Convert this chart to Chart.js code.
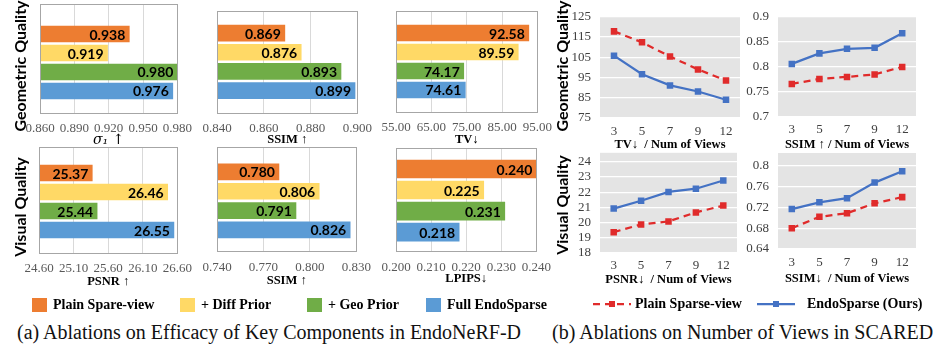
<!DOCTYPE html>
<html>
<head>
<meta charset="utf-8">
<script src="https://cdn.jsdelivr.net/npm/chart.js@4.4.0/dist/chart.umd.min.js"></script>
<style>
body { margin: 0; background: #fff; width: 933px; height: 348px; overflow: hidden; position: relative; font-family: "Liberation Serif", serif; }
.rowlab { position: absolute; font: bold 16px Lato, sans-serif; color: #000; white-space: nowrap; transform: translate(-50%, -50%) rotate(-90deg); }
.leg { position: absolute; font: bold 14px "Liberation Serif", serif; color: #000; white-space: nowrap; transform: translateY(-50%); }
.sw { position: absolute; width: 15px; height: 14px; }
.cap { position: absolute; font: 20px "Liberation Serif", serif; color: #111; white-space: nowrap; transform: translateY(-50%); }
</style>
</head>
<body>
<script>
// (a) component ablation, EndoNeRF-D
const variants = ["Plain Spare-view", "+ Diff Prior", "+ Geo Prior", "Full EndoSparse"];
const variantColors = ["#ED7D31", "#FFD966", "#70AD47", "#5B9BD5"];
const sigmaVals = [0.938, 0.919, 0.980, 0.976];
const geoSsimVals = [0.869, 0.876, 0.893, 0.899];
const tvVals = [92.58, 89.59, 74.17, 74.61];
const psnrVals = [25.37, 26.46, 25.44, 26.55];
const visSsimVals = [0.780, 0.806, 0.791, 0.826];
const lpipsVals = [0.240, 0.225, 0.231, 0.218];
const sigmaTicks = ["0.860", "0.890", "0.920", "0.950", "0.980"];
const geoSsimTicks = ["0.840", "0.860", "0.880", "0.900"];
const tvTicks = ["55.00", "65.00", "75.00", "85.00", "95.00"];
const psnrTicks = ["24.60", "25.10", "25.60", "26.10", "26.60"];
const visSsimTicks = ["0.740", "0.770", "0.800", "0.830"];
const lpipsTicks = ["0.200", "0.210", "0.220", "0.230", "0.240"];

// (b) number of views, SCARED
const seriesNames = ["Plain Sparse-view", "EndoSparse (Ours)"];
const views = ["3", "5", "7", "9", "12"];
const tvPlain = [117.8, 112.4, 105.4, 99.0, 93.5];
const tvOurs = [105.8, 96.6, 91.1, 88.1, 84.0];
const ssimGeoPlain = [0.766, 0.776, 0.780, 0.785, 0.800];
const ssimGeoOurs = [0.806, 0.827, 0.836, 0.838, 0.867];
const psnrPlain = [19.37, 19.88, 20.08, 20.67, 21.12];
const psnrOurs = [20.92, 21.44, 22.02, 22.23, 22.77];
const ssimVisPlain = [0.680, 0.702, 0.709, 0.728, 0.740];
const ssimVisOurs = [0.717, 0.730, 0.738, 0.768, 0.790];
const tvTicksB = ["75", "85", "95", "105", "115", "125"];
const ssimGeoTicksB = ["0.7", "0.75", "0.8", "0.85", "0.9"];
const psnrTicksB = ["18", "19", "20", "21", "22", "23", "24"];
const ssimVisTicksB = ["0.64", "0.68", "0.72", "0.76", "0.8"];

const RED = "#E02B2B", BLUE = "#4472C4";
const tickFont = { family: "Liberation Serif", size: 13 };
const titleFont = { family: "Liberation Serif", size: 12.5, weight: "bold" };

function makeCanvas(x, y, w, h) {
    const cv = document.createElement("canvas");
    cv.width = w; cv.height = h;
    cv.style.cssText = `position:absolute;left:${x}px;top:${y}px;width:${w}px;height:${h}px`;
    document.body.appendChild(cv);
    return cv;
}

const frame = {
    id: "frame",
    afterDraw(chart) {
        const a = chart.chartArea, c = chart.ctx;
        c.save();
        c.strokeStyle = "#a6a6a6";
        c.lineWidth = 1;
        c.strokeRect(Math.round(a.left) + 0.5, Math.round(a.top) + 0.5, Math.round(a.right - a.left), Math.round(a.bottom - a.top));
        c.restore();
    }
};

const barValues = {
    id: "barValues",
    afterDatasetsDraw(chart) {
        const c = chart.ctx, meta = chart.getDatasetMeta(0);
        const dec = chart.options.decimals;
        c.save();
        c.font = "bold 14px Lato";
        c.fillStyle = "#000";
        c.textAlign = "right";
        c.textBaseline = "middle";
        meta.data.forEach((bar, i) => {
            c.fillText(chart.data.datasets[0].data[i].x.toFixed(dec), bar.x - 4, bar.y + 1);
        });
        c.restore();
    }
};

const plotBg = {
    id: "plotBg",
    beforeDraw(chart) {
        const a = chart.chartArea, c = chart.ctx, ex = chart.options.bgExtra || 0;
        c.save();
        c.fillStyle = "#e4e4e4";
        c.fillRect(a.left, a.top - ex, a.right - a.left, a.bottom - a.top + ex);
        c.restore();
    }
};

function barChart(p, values, ticks, dec, title, tFont) {
    const cv = makeCanvas(p.x, p.y, p.w, p.h);
    new Chart(cv, {
        type: "bar",
        data: {
            datasets: [{
                data: values.map((v, i) => ({ x: v, y: i })),
                backgroundColor: variantColors,
                barThickness: p.bar
            }]
        },
        options: {
            indexAxis: "y", responsive: false, animation: false, decimals: dec,
            layout: { padding: { left: p.pl, right: p.pr, top: p.pt, bottom: 0 } },
            plugins: { legend: { display: false }, tooltip: { enabled: false } },
            scales: {
                y: { type: "linear", display: false, reverse: true, offset: false, grid: { offset: false }, min: p.ymin, max: p.ymax },
                x: {
                    min: +ticks[0], max: +ticks[ticks.length - 1],
                    afterBuildTicks: s => { s.ticks = ticks.map(t => ({ value: +t })); },
                    afterFit: s => { s.height = p.xh; },
                    grid: { color: "#d9d9d9", drawTicks: false },
                    border: { display: false },
                    ticks: { padding: p.tp, color: "#595959", font: tickFont, autoSkip: false, maxRotation: 0, callback: (v, i) => ticks[i] },
                    title: { display: true, text: title, color: "#000", font: tFont || titleFont, padding: { top: 0, bottom: p.tb } }
                }
            }
        },
        plugins: [frame, barValues]
    });
}

function lineChart(p, plain, ours, ticks, title) {
    const cv = makeCanvas(p.x, p.y, p.w, p.h);
    const ds = (label, data, color, dash) => ({
        label, data, borderColor: color, backgroundColor: color, borderWidth: 2.25,
        borderDash: dash, pointStyle: "rect", pointRadius: 4.6, pointBorderWidth: 0, tension: 0
    });
    new Chart(cv, {
        type: "line",
        data: { labels: views, datasets: [ds(seriesNames[0], plain, RED, [7, 5]), ds(seriesNames[1], ours, BLUE, [])] },
        options: {
            responsive: false, animation: false, bgExtra: p.ex,
            layout: { padding: { left: 0, right: p.pr, top: p.pt, bottom: 0 } },
            plugins: { legend: { display: false }, tooltip: { enabled: false } },
            scales: {
                x: {
                    offset: true,
                    afterFit: s => { s.height = p.xh; },
                    grid: { display: false, drawTicks: false },
                    border: { display: false },
                    ticks: { padding: p.tp, color: "#404040", font: tickFont, maxRotation: 0, autoSkip: false },
                    title: { display: true, text: title, color: "#000", font: titleFont, padding: { top: 0, bottom: p.tb } }
                },
                y: {
                    min: +ticks[0], max: +ticks[ticks.length - 1],
                    afterBuildTicks: s => { s.ticks = ticks.map(t => ({ value: +t })); },
                    afterFit: s => { s.width = p.yw; },
                    grid: { color: "#ffffff", lineWidth: 1.3, drawTicks: false },
                    border: { display: false },
                    ticks: { padding: 9, color: "#404040", font: tickFont, autoSkip: false, callback: (v, i) => ticks[i] }
                }
            }
        },
        plugins: [plotBg]
    });
}

// (a) bar panels
barChart({ x: 0, y: 0, w: 200, h: 150, pl: 40, pr: 17, pt: 4, xh: 37, tp: 8, tb: 1, bar: 16, ymin: -1.58, ymax: 4.16 },
    sigmaVals, sigmaTicks, 3, "\u03c3\u2081 \u2191", { family: "DejaVu Serif", size: 14, style: "italic" });
barChart({ x: 190, y: 0, w: 190, h: 150, pl: 27, pr: 19, pt: 11, xh: 37, tp: 8, tb: 3, bar: 16, ymin: -1.15, ymax: 4.17 },
    geoSsimVals, geoSsimTicks, 3, "SSIM \u2191");
barChart({ x: 370, y: 0, w: 190, h: 150, pl: 26, pr: 19, pt: 11, xh: 38, tp: 8, tb: 3, bar: 16, ymin: -1.16, ymax: 4.16 },
    tvVals, tvTicks, 2, "TV\u2193");
barChart({ x: 0, y: 145, w: 200, h: 150, pl: 39, pr: 17, pt: 2, xh: 42, tp: 8, tb: 6, bar: 16, ymin: -1.37, ymax: 4.21 },
    psnrVals, psnrTicks, 2, "PSNR \u2191");
barChart({ x: 190, y: 145, w: 190, h: 150, pl: 27, pr: 18, pt: 2, xh: 44, tp: 9, tb: 7, bar: 16, ymin: -1.29, ymax: 4.09 },
    visSsimVals, visSsimTicks, 3, "SSIM \u2191");
barChart({ x: 370, y: 145, w: 190, h: 150, pl: 26, pr: 19, pt: 3, xh: 44, tp: 9, tb: 9, bar: 18, ymin: -1.0, ymax: 3.9 },
    lpipsVals, lpipsTicks, 3, "LPIPS\u2193");

// (b) line panels
lineChart({ x: 560, y: 0, w: 190, h: 160, pr: 10, pt: 13, yw: 40, xh: 42, tp: 6, tb: 8, ex: 0 },
    tvPlain, tvOurs, tvTicksB, "TV\u2193  / Num of Views");
lineChart({ x: 740, y: 0, w: 193, h: 160, pr: 17, pt: 13, yw: 38, xh: 43, tp: 5, tb: 8, ex: 0 },
    ssimGeoPlain, ssimGeoOurs, ssimGeoTicksB, "SSIM \u2191 / Num of Views");
lineChart({ x: 560, y: 145, w: 190, h: 150, pr: 13, pt: 12, yw: 40, xh: 42, tp: 5, tb: 8, ex: 9 },
    psnrPlain, psnrOurs, psnrTicksB, "PSNR\u2193  / Num of Views");
lineChart({ x: 740, y: 145, w: 193, h: 150, pr: 17, pt: 21, yw: 38, xh: 46, tp: 6, tb: 9, ex: 13 },
    ssimVisPlain, ssimVisOurs, ssimVisTicksB, "SSIM\u2193  / Num of Views");

// row labels, legends, captions
function addDiv(cls, text, x, y) {
    const d = document.createElement("div");
    d.className = cls;
    d.textContent = text;
    d.style.left = x + "px";
    d.style.top = y + "px";
    document.body.appendChild(d);
    return d;
}
addDiv("rowlab", "Geometric Quality", 19, 66);
addDiv("rowlab", "Visual Quality", 19, 207);
addDiv("rowlab", "Geometric Quality", 561, 66);
addDiv("rowlab", "Visual Quality", 561, 205);

const legX = [32, 180, 307, 426];
variants.forEach((name, i) => {
    const s = document.createElement("div");
    s.className = "sw";
    s.style.left = legX[i] + "px";
    s.style.top = "298px";
    s.style.background = variantColors[i];
    document.body.appendChild(s);
    addDiv("leg", name, legX[i] + 21, 305);
});

const lineLegX = [593, 757];
const svgNS = "http://www.w3.org/2000/svg";
seriesNames.forEach((name, i) => {
    const svg = document.createElementNS(svgNS, "svg");
    svg.setAttribute("width", "40");
    svg.setAttribute("height", "10");
    svg.style.cssText = `position:absolute;left:${lineLegX[i]}px;top:299px`;
    const col = i === 0 ? RED : BLUE;
    const ln = document.createElementNS(svgNS, "line");
    ln.setAttribute("x1", "0"); ln.setAttribute("x2", "38");
    ln.setAttribute("y1", "5"); ln.setAttribute("y2", "5");
    ln.setAttribute("stroke", col); ln.setAttribute("stroke-width", "2.25");
    if (i === 0) ln.setAttribute("stroke-dasharray", "7 5");
    const rc = document.createElementNS(svgNS, "rect");
    rc.setAttribute("x", "16"); rc.setAttribute("y", "2");
    rc.setAttribute("width", "6"); rc.setAttribute("height", "6");
    rc.setAttribute("fill", col);
    svg.appendChild(ln); svg.appendChild(rc);
    document.body.appendChild(svg);
    addDiv("leg", name, i === 0 ? 635 : 807, 304);
});

addDiv("cap", "(a) Ablations on Efficacy of Key Components in EndoNeRF-D", 17, 332);
addDiv("cap", "(b) Ablations on Number of Views in SCARED", 552, 332);
</script>
</body>
</html>
